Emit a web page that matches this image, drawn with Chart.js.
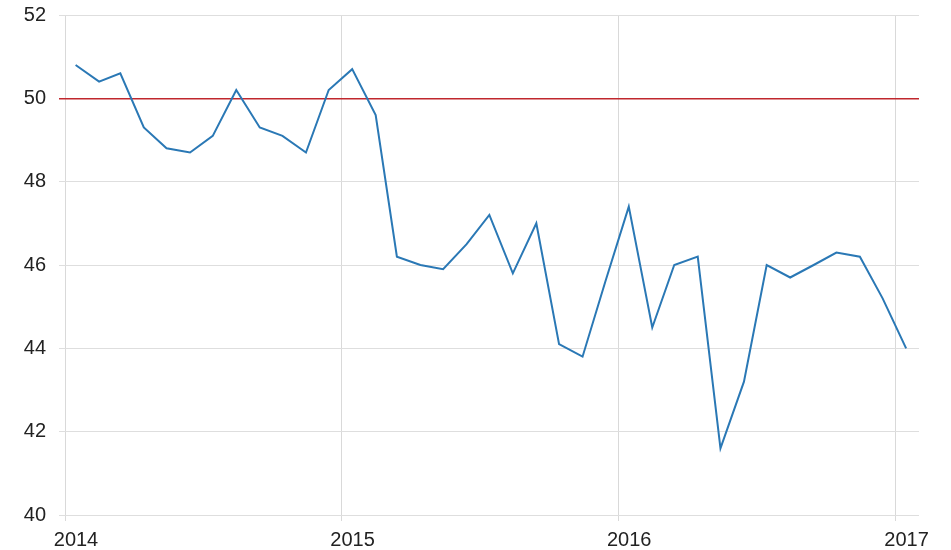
<!DOCTYPE html>
<html>
<head>
<meta charset="utf-8">
<script src="https://cdn.jsdelivr.net/npm/chart.js@4"></script>
<style>
  html, body { margin: 0; padding: 0; background: #fff; }
  canvas { display: block; }
</style>
</head>
<body>
<canvas id="c" width="951" height="550"></canvas>
<script>
const months = [
  "2014-01","2014-02","2014-03","2014-04","2014-05","2014-06","2014-07","2014-08","2014-09","2014-10","2014-11","2014-12",
  "2015-01","2015-02","2015-03","2015-04","2015-05","2015-06","2015-07","2015-08","2015-09","2015-10","2015-11","2015-12",
  "2016-01","2016-02","2016-03","2016-04","2016-05","2016-06","2016-07","2016-08","2016-09","2016-10","2016-11","2016-12",
  "2017-01"
];
const values = [
  50.8, 50.4, 50.6, 49.3, 48.8, 48.7, 49.1, 50.2, 49.3, 49.1, 48.7, 50.2,
  50.7, 49.6, 46.2, 46.0, 45.9, 46.5, 47.2, 45.8, 47.0, 44.1, 43.8, 45.6,
  47.4, 44.5, 46.0, 46.2, 41.6, 43.2, 46.0, 45.7, 46.0, 46.3, 46.2, 45.2,
  44.0
];
const yearTicks = [2014, 2015, 2016, 2017];
const yTicks = [40, 42, 44, 46, 48, 50, 52];
const threshold = 50;

function monthToTime(s) {
  const [y, m] = s.split("-").map(Number);
  return Date.UTC(y, m - 1, 15);
}

const points = months.map((m, i) => ({ x: monthToTime(m), y: values[i] }));
const FONT = { family: "'Liberation Sans', Arial, sans-serif", size: 20 };

new Chart(document.getElementById("c"), {
  type: "line",
  data: {
    datasets: [{
      data: points,
      borderColor: "#2a78b5",
      borderWidth: 2,
      pointRadius: 0,
      tension: 0,
      fill: false
    }]
  },
  options: {
    responsive: false,
    animation: false,
    layout: { padding: { top: 15, right: 32, left: 0, bottom: 0 } },
    plugins: { legend: { display: false }, tooltip: { enabled: false } },
    scales: {
      x: {
        type: "linear",
        min: Date.UTC(2014, 0, 1),
        max: Date.UTC(2017, 1, 1),
        afterBuildTicks: (scale) => { scale.ticks = yearTicks.map(y => ({ value: Date.UTC(y, 0, 1) })); },
        afterFit: (scale) => { scale.height = 35; scale.paddingLeft = 0; scale.paddingRight = 0; },
        border: { display: false },
        grid: { color: "#d9d9d9", lineWidth: 1, tickLength: 6, drawTicks: true },
        ticks: {
          callback: (v) => String(new Date(v).getUTCFullYear()),
          font: FONT,
          color: "#222",
          padding: 7,
          labelOffset: 11,
          maxRotation: 0,
          autoSkip: false
        }
      },
      y: {
        min: 40,
        max: 52,
        afterBuildTicks: (scale) => { scale.ticks = yTicks.map(v => ({ value: v })); },
        afterFit: (scale) => { scale.width = 65; scale.paddingTop = 0; scale.paddingBottom = 0; },
        border: { display: false },
        grid: {
          color: (ctx) => (ctx.tick && ctx.tick.value === threshold) ? "#c0272d" : "#dedede",
          lineWidth: (ctx) => (ctx.tick && ctx.tick.value === threshold) ? 1.5 : 1,
          tickLength: 6
        },
        ticks: {
          font: FONT,
          color: "#222",
          padding: 13
        }
      }
    }
  }
});
</script>
</body>
</html>
